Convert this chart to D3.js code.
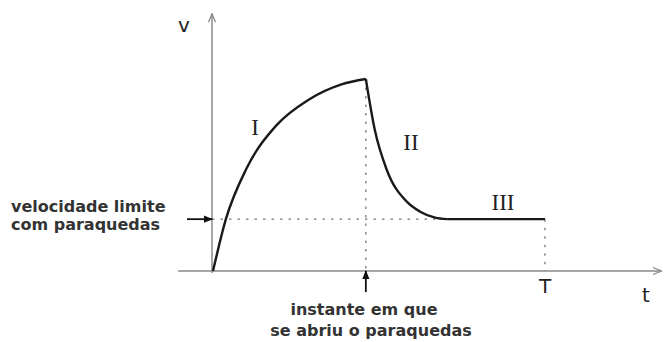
<!DOCTYPE html>
<html><head><meta charset="utf-8">
<script src="https://cdn.jsdelivr.net/npm/d3@7"></script>
<style>html,body{margin:0;padding:0;background:#fff;}svg{display:block;}</style>
</head><body>
<svg id="c" width="664" height="342"></svg>
<script>
// ---- data ----
const phaseLabels = ["I", "II", "III"];
const tPhaseI  = [0.3, 4.1, 10.4, 19.4, 28.9, 38.9, 46.2];
const vPhaseI  = [0, 26.6, 53.5, 76, 89.1, 97.2, 100];
const tPhaseII = [46.2, 48.9, 52.5, 58.5, 62.5, 67, 70.6];
const vPhaseII = [100, 73.4, 52.6, 36.1, 30.9, 27.8, 27];
const tPhaseIII = [70.6, 100];
const vPhaseIII = [27, 27];
const vLimit = 27;
const tOpen = 46.2;
const tEnd = 100;
const axisLabels = {x: "t", y: "v", end: "T"};
const limitText = ["velocidade limite", "com paraquedas"];
const openText = ["instante em que", "se abriu o paraquedas"];

// ---- scales ----
const x = d3.scaleLinear().domain([0, 100]).range([212, 545]);
const y = d3.scaleLinear().domain([0, 100]).range([271, 79]);
const svg = d3.select("#c");

const defs = svg.append("defs");
defs.append("marker").attr("id","open").attr("viewBox","0 0 10 10").attr("refX",9.5).attr("refY",5)
  .attr("markerWidth",10).attr("markerHeight",10).attr("markerUnits","userSpaceOnUse").attr("orient","auto")
  .append("path").attr("d","M1,1.5 L9.5,5 L1,8.5").attr("fill","none").attr("stroke","#8a8a8a").attr("stroke-width",1.3);
defs.append("marker").attr("id","solid").attr("viewBox","0 0 10 10").attr("refX",9).attr("refY",5)
  .attr("markerWidth",9).attr("markerHeight",9).attr("markerUnits","userSpaceOnUse").attr("orient","auto")
  .append("path").attr("d","M0,1 L10,5 L0,9 Z").attr("fill","#111");

// axes
svg.append("line").attr("x1", x(-10.2)).attr("x2", x(135)).attr("y1", y(0)).attr("y2", y(0))
  .attr("stroke","#8a8a8a").attr("stroke-width",1.5).attr("marker-end","url(#open)");
svg.append("line").attr("x1", x(0)).attr("x2", x(0)).attr("y1", y(-1)).attr("y2", y(134))
  .attr("stroke","#8a8a8a").attr("stroke-width",1.5).attr("marker-end","url(#open)");

// dotted guides
const dot = {stroke:"#777", "stroke-width":1.3, "stroke-dasharray":"2.5,6"};
function dotted(x1,y1,x2,y2){
  const l = svg.append("line").attr("x1",x1).attr("y1",y1).attr("x2",x2).attr("y2",y2);
  Object.entries(dot).forEach(([k,v])=>l.attr(k,v));
}
dotted(x(0), y(vLimit), x(tPhaseIII[0]), y(vLimit));
dotted(x(tOpen), y(100), x(tOpen), y(0));
dotted(x(tEnd), y(vLimit), x(tEnd), y(0));

// curves
const line = d3.line().x(d=>x(d[0])).y(d=>y(d[1])).curve(d3.curveMonotoneX);
const phases = [[tPhaseI, vPhaseI],[tPhaseII, vPhaseII],[tPhaseIII, vPhaseIII]];
phases.forEach(([ts, vs]) => {
  svg.append("path").attr("d", line(ts.map((t,i)=>[t, vs[i]])))
    .attr("fill","none").attr("stroke","#1a1a1a").attr("stroke-width",2.4).attr("stroke-linejoin","round");
});

// annotation arrows
svg.append("line").attr("x1", x(-7.5)).attr("x2", x(0)).attr("y1", y(vLimit)).attr("y2", y(vLimit))
  .attr("stroke","#111").attr("stroke-width",1.8).attr("marker-end","url(#solid)");
svg.append("line").attr("x1", x(tOpen)).attr("x2", x(tOpen)).attr("y1", y(-11)).attr("y2", y(0))
  .attr("stroke","#111").attr("stroke-width",1.8).attr("marker-end","url(#solid)");

// roman numerals
const romanPos = [[255,135],[411,150],[503,210]];
phaseLabels.forEach((s,i)=>{
  svg.append("text").attr("x",romanPos[i][0]).attr("y",romanPos[i][1]).attr("text-anchor","middle")
    .attr("font-family","Liberation Serif, serif").attr("font-size",23).attr("fill","#222").text(s);
});

// axis letters
const sans = "DejaVu Sans, sans-serif";
svg.append("text").attr("x",184).attr("y",32).attr("text-anchor","middle").attr("font-family",sans)
  .attr("font-size",20).attr("fill","#222").text(axisLabels.y);
svg.append("text").attr("x",646).attr("y",302).attr("text-anchor","middle").attr("font-family",sans)
  .attr("font-size",20).attr("fill","#222").text(axisLabels.x);
svg.append("text").attr("x",x(tEnd)).attr("y",293).attr("text-anchor","middle").attr("font-family",sans)
  .attr("font-size",20).attr("fill","#222").text(axisLabels.end);

// explanatory text
limitText.forEach((s,i)=>{
  svg.append("text").attr("x",11).attr("y",212+i*18).attr("font-family",sans).attr("font-weight","bold")
    .attr("font-size",16).attr("fill","#333").text(s);
});
openText.forEach((s,i)=>{
  svg.append("text").attr("x",i===0?364:371).attr("y",315+i*21).attr("text-anchor","middle").attr("font-family",sans)
    .attr("font-weight","bold").attr("font-size",16).attr("fill","#333").text(s);
});
</script>
</body></html>
